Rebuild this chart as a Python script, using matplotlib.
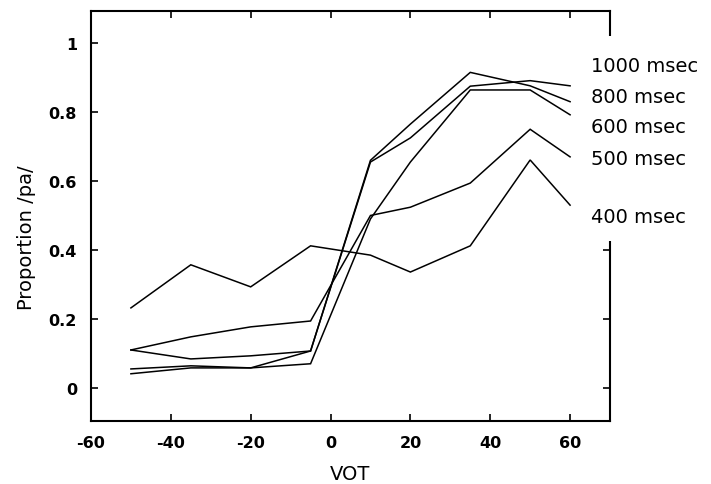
import matplotlib
matplotlib.use("Agg")
import matplotlib.pyplot as plt
from matplotlib.patches import Rectangle

vot = [-50, -35, -20, -5, 10, 20, 35, 50, 60]

p400 = [0.232, 0.357, 0.293, 0.412, 0.385, 0.336, 0.412, 0.661, 0.53]
p500 = [0.11, 0.148, 0.177, 0.194, 0.50, 0.524, 0.594, 0.75, 0.67]
p600 = [0.041, 0.058, 0.058, 0.07, 0.49, 0.655, 0.864, 0.864, 0.792]
p800 = [0.11, 0.084, 0.093, 0.107, 0.66, 0.765, 0.915, 0.876, 0.83]
p1000 = [0.055, 0.064, 0.058, 0.107, 0.655, 0.725, 0.875, 0.891, 0.876]

series = [p1000, p800, p600, p500, p400]
labels = ["1000 msec", "800 msec", "600 msec", "500 msec", "400 msec"]
label_y = [0.936, 0.846, 0.759, 0.664, 0.496]

xticks = [-60, -40, -20, 0, 20, 40, 60]
yticks = [0, 0.2, 0.4, 0.6, 0.8, 1]
ytick_labels = ["0", "0.2", "0.4", "0.6", "0.8", "1"]

plt.rcParams["font.family"] = ["DejaVu Sans"]
plt.rcParams["axes.unicode_minus"] = False

fig = plt.figure(figsize=(7.11, 4.85), dpi=100)
ax = fig.add_axes([91 / 711, 1 - 422 / 485, (610 - 91) / 711, (422 - 12) / 485])

for ys in series:
    ax.plot(vot, ys, color="black", lw=1.1, solid_joinstyle="miter")

ax.set_xlim(-60, 70)
ax.set_ylim(-0.096, 1.093)
ax.set_xticks(xticks)
ax.set_yticks(yticks)
ax.set_yticklabels(ytick_labels)
ax.tick_params(direction="in", length=5, width=1.2, top=True, right=True,
               labelsize=11.5, pad=10)
for t in ax.get_xticklabels() + ax.get_yticklabels():
    t.set_fontweight("bold")
for s in ax.spines.values():
    s.set_linewidth(1.5)

ax.set_xlabel("VOT", fontsize=14)
ax.xaxis.set_label_coords(0.5, -0.105)
ax.set_ylabel("Proportion /pa/", fontsize=14)
ax.yaxis.set_label_coords(-0.106, 0.45)

# white band over the right frame where the labels sit
ax.add_patch(Rectangle((582 / 711, 1 - 242 / 485), 129 / 711, 205 / 485,
                       transform=fig.transFigure, facecolor="white",
                       edgecolor="none", zorder=5, clip_on=False))
for lab, y in zip(labels, label_y):
    ax.text(65.3, y, lab, fontsize=14, ha="left", va="center",
            zorder=6, clip_on=False)

fig.savefig("out.png", dpi=100)
